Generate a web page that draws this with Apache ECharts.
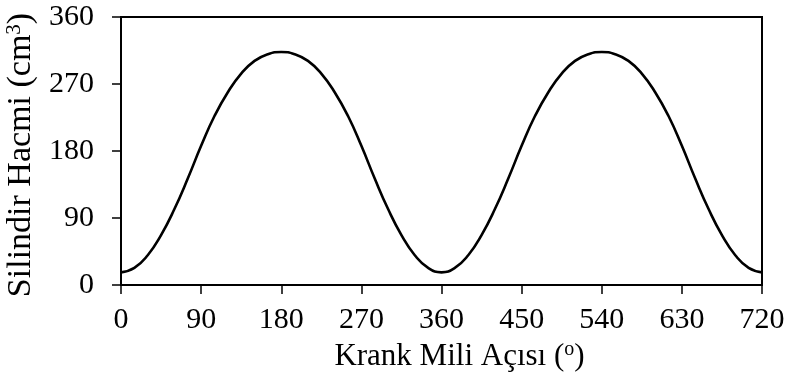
<!DOCTYPE html>
<html>
<head>
<meta charset="utf-8">
<style>
  html, body { margin: 0; padding: 0; background: #fff; }
  #chart { width: 789px; height: 378px; }
</style>
<script src="https://cdn.jsdelivr.net/npm/echarts@6/dist/echarts.min.js"></script>
</head>
<body>
<div id="chart"></div>
<script>
// Crank angle (degrees), every 15°
const crankAngle = [
  0, 15, 30, 45, 60, 75, 90, 105, 120, 135, 150, 165, 180,
  195, 210, 225, 240, 255, 270, 285, 300, 315, 330, 345, 360,
  375, 390, 405, 420, 435, 450, 465, 480, 495, 510, 525, 540,
  555, 570, 585, 600, 615, 630, 645, 660, 675, 690, 705, 720
];
// Cylinder volume (cm³) at each crank angle
const cylinderVolume = [
  17, 23, 40, 67, 102, 143, 187, 227, 259, 284, 301, 310, 313,
  310, 301, 284, 259, 227, 187, 143, 102, 67, 40, 23, 17,
  23, 40, 67, 102, 143, 187, 227, 259, 284, 301, 310, 313,
  310, 301, 284, 259, 227, 187, 143, 102, 67, 40, 23, 17
];
const xTicks = { min: 0, max: 720, interval: 90 };
const yTicks = { min: 0, max: 360, interval: 90 };

const FONT = '"Liberation Serif", "Times New Roman", serif';
const chart = echarts.init(document.getElementById('chart'), null, { renderer: 'canvas' });

chart.setOption({
  backgroundColor: '#fff',
  animation: false,
  grid: {
    left: 121, right: 27, top: 17, bottom: 93,
    containLabel: false,
    outerBoundsMode: 'none',
    show: true, borderColor: '#000', borderWidth: 2, backgroundColor: 'transparent'
  },
  xAxis: {
    type: 'value',
    min: xTicks.min, max: xTicks.max, interval: xTicks.interval,
    name: '{t|Krank Mili Açısı (}{sup|o}{t|)}',
    nameLocation: 'middle',
    nameGap: 51,
    nameTextStyle: {
      padding: [0, 0, 0, 36],
      rich: {
        t: { fontFamily: FONT, fontSize: 31, color: '#000', lineHeight: 33 },
        sup: { fontFamily: FONT, fontSize: 20, color: '#000', verticalAlign: 'top', lineHeight: 33 }
      }
    },
    axisLine: { show: true, lineStyle: { color: '#000', width: 2 } },
    axisTick: { show: true, inside: false, length: 9, lineStyle: { color: '#000', width: 1.5 } },
    axisLabel: { margin: 20, fontFamily: FONT, fontSize: 30, color: '#000' },
    splitLine: { show: false }
  },
  yAxis: {
    type: 'value',
    min: yTicks.min, max: yTicks.max, interval: yTicks.interval,
    name: '{t|Silindir Hacmi (cm}{sup|3}{t|)}',
    nameLocation: 'middle',
    nameGap: 77,
    nameTextStyle: {
      padding: [0, 8, 0, 0],
      rich: {
        t: { fontFamily: FONT, fontSize: 34, color: '#000', lineHeight: 34 },
        sup: { fontFamily: FONT, fontSize: 21, color: '#000', verticalAlign: 'top', lineHeight: 34 }
      }
    },
    axisLine: { show: true, lineStyle: { color: '#000', width: 2 } },
    axisTick: { show: true, inside: false, length: 9, lineStyle: { color: '#000', width: 1.5 } },
    axisLabel: { margin: 27, fontFamily: FONT, fontSize: 30, color: '#000' },
    splitLine: { show: false }
  },
  series: [{
    type: 'line',
    data: crankAngle.map((a, i) => [a, cylinderVolume[i]]),
    smooth: 0.5,
    showSymbol: false,
    lineStyle: { color: '#000', width: 2.6 }
  }]
});
</script>
</body>
</html>
